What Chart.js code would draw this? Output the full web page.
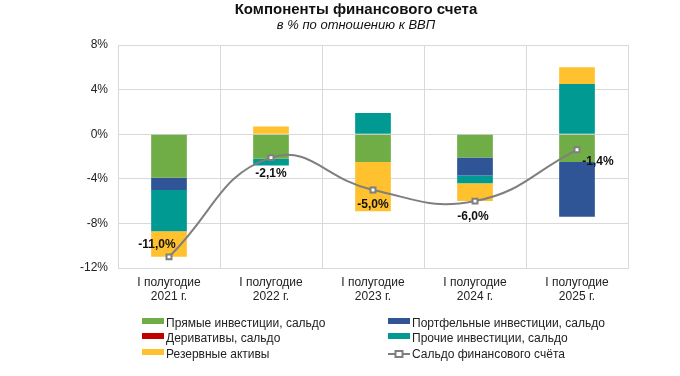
<!DOCTYPE html>
<html lang="ru">
<head>
<meta charset="UTF-8">
<title>Компоненты финансового счета</title>
<script src="https://cdn.jsdelivr.net/npm/chart.js@4/dist/chart.umd.min.js"></script>
<style>
  body { margin: 0; background: #fff; font-family: "Liberation Sans", Arial, sans-serif; }
  #wrap { position: relative; width: 680px; height: 376px; }
  #chart { position: absolute; left: 0; top: 0; }
  .title { position: absolute; left: 206px; width: 300px; text-align: center; color: #111; white-space: nowrap; }
  #t1 { top: 0px; font-size: 15px; font-weight: bold; }
  #t2 { top: 17px; font-size: 13px; font-style: italic; }
  #legend { position: absolute; left: 0; top: 0; }
  .item { position: absolute; font-size: 12px; color: #222; white-space: nowrap; line-height: 14px; }
  .box { display: inline-block; width: 22px; height: 6px; vertical-align: 3px; margin-right: 2px; }
</style>
</head>
<body>
<div id="wrap">
  <canvas id="chart" width="680" height="376"></canvas>
  <div class="title" id="t1">Компоненты финансового счета</div>
  <div class="title" id="t2">в % по отношению к ВВП</div>
  <div id="legend"></div>
</div>
<script>
  const labels = [['I полугодие', '2021 г.'], ['I полугодие', '2022 г.'], ['I полугодие', '2023 г.'], ['I полугодие', '2024 г.'], ['I полугодие', '2025 г.']];
  const direct = [-3.9, -2.2, -2.5, -2.1, -2.5];
  const portfolio = [-1.1, 0, 0, -1.6, -4.9];
  const derivatives = [0, 0, 0, 0, 0];
  const other = [-3.7, -0.6, 1.9, -0.7, 4.5];
  const reserves = [-2.3, 0.7, -4.4, -1.6, 1.5];
  const balance = [-11.0, -2.1, -5.0, -6.0, -1.4];
  const balanceLabels = ['-11,0%', '-2,1%', '-5,0%', '-6,0%', '-1,4%'];
  const yTicks = [8, 4, 0, -4, -8, -12];

  // label offsets relative to the point
  const labelOffsets = [[-12, -12], [0, 16], [0, 15], [-2, 16], [21, 12]];

  function bar(label, data, color) {
    return { type: 'bar', label: label, data: data, backgroundColor: color, stack: 'a', order: 1,
             barPercentage: 0.35, categoryPercentage: 1 };
  }

  const datasets = [
    bar('Прямые инвестиции, сальдо', direct, '#70AD47'),
    bar('Портфельные инвестиции, сальдо', portfolio, '#2F5597'),
    bar('Деривативы, сальдо', derivatives, '#C00000'),
    bar('Прочие инвестиции, сальдо', other, '#009A93'),
    bar('Резервные активы', reserves, '#FFC12E'),
    {
      type: 'line', label: 'Сальдо финансового счёта', data: balance, stack: 'line', order: 0,
      borderColor: '#7F7F7F', borderWidth: 2, tension: 0.45,
      pointStyle: 'rect', pointRadius: 3.5, pointBackgroundColor: '#fff',
      pointBorderColor: '#7F7F7F', pointBorderWidth: 2
    }
  ];

  const valueLabels = {
    id: 'valueLabels',
    afterDatasetsDraw(chart) {
      const ctx = chart.ctx;
      const meta = chart.getDatasetMeta(5);
      ctx.save();
      ctx.font = 'bold 12px "Liberation Sans", Arial, sans-serif';
      ctx.fillStyle = '#111';
      ctx.textAlign = 'center';
      ctx.textBaseline = 'middle';
      meta.data.forEach((pt, i) => {
        ctx.fillText(balanceLabels[i], pt.x + labelOffsets[i][0], pt.y + labelOffsets[i][1]);
      });
      ctx.restore();
    }
  };

  new Chart(document.getElementById('chart'), {
    data: { labels: labels, datasets: datasets },
    options: {
      responsive: false,
      animation: false,
      layout: { padding: { left: 0, top: 45, right: 52, bottom: 63 } },
      plugins: { legend: { display: false }, title: { display: false }, tooltip: { enabled: false } },
      scales: {
        x: {
          stacked: true,
          grid: { offset: true, color: '#D9D9D9', drawTicks: false },
          border: { color: '#D9D9D9' },
          ticks: { color: '#222', font: { size: 12, family: '"Liberation Sans", Arial' }, padding: 7, maxRotation: 0 },
          afterFit(s) { s.height = 45; }
        },
        y: {
          stacked: true,
          min: -12, max: 8,
          afterBuildTicks(s) { s.ticks = yTicks.map(v => ({ value: v })); },
          grid: { color: '#D9D9D9', drawTicks: false },
          border: { color: '#D9D9D9' },
          ticks: { color: '#222', font: { size: 12, family: '"Liberation Sans", Arial' }, padding: 10,
                   callback: v => v + '%' },
          afterFit(s) { s.width = 118; }
        }
      }
    },
    plugins: [valueLabels]
  });

  // legend, two columns
  const legendPos = [[142, 316], [388, 316], [142, 331], [388, 331], [142, 347], [388, 347]];
  const legend = document.getElementById('legend');
  datasets.forEach((ds, k) => {
    const el = document.createElement('div');
    el.className = 'item';
    el.style.left = legendPos[k][0] + 'px';
    el.style.top = legendPos[k][1] + 'px';
    if (ds.type === 'line') {
      el.innerHTML = '<svg width="22" height="10" style="vertical-align:-1px;margin-right:2px"><line x1="0" y1="5" x2="22" y2="5" stroke="#7F7F7F" stroke-width="2"/><rect x="7.5" y="2" width="7" height="6" fill="#fff" stroke="#7F7F7F" stroke-width="2"/></svg>';
    } else {
      el.innerHTML = '<span class="box" style="background:' + ds.backgroundColor + '"></span>';
    }
    el.appendChild(document.createTextNode(ds.label));
    legend.appendChild(el);
  });
</script>
</body>
</html>
